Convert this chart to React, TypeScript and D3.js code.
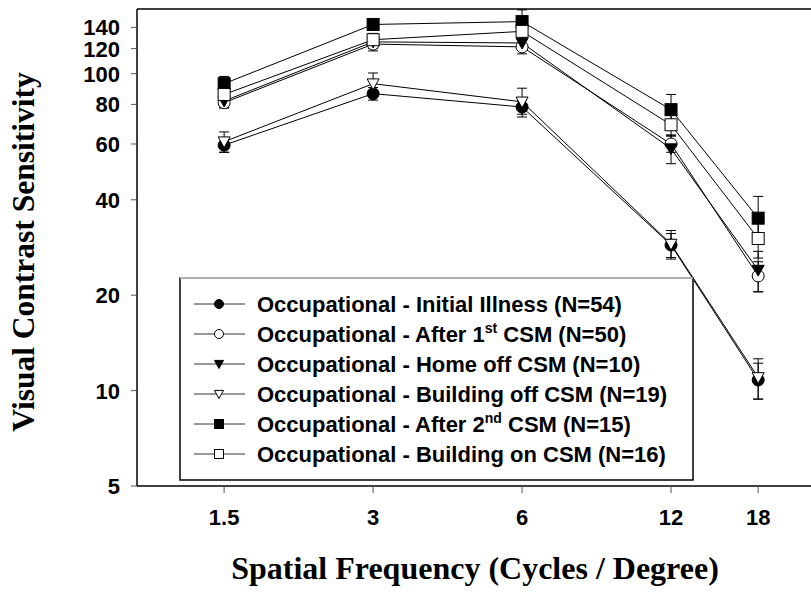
import React from "react";
import * as d3 from "d3";

// spatial frequencies (cycles / degree)
const freqs = [1.5, 3, 6, 12, 18];
const yTicks = [5, 10, 20, 40, 60, 80, 100, 120, 140];

// contrast sensitivity, mean and error per frequency
const initialIllness = [59.5, 86.5, 78.5, 28.8, 10.8];
const initialIllnessErr = [3, 4, 4, 2.5, 1.4];
const afterFirst = [81, 124, 121.5, 60, 23];
const afterFirstErr = [3, 6, 6, 3.5, 2.5];
const homeOff = [82, 126, 125, 58, 24];
const homeOffErr = [4, 6, 6, 6, 3.5];
const buildingOff = [61, 93, 81.5, 29, 11];
const buildingOffErr = [4.5, 7.5, 8.5, 3, 1.6];
const afterSecond = [93, 143, 146, 77, 35];
const afterSecondErr = [5, 5, 13, 9, 6];
const buildingOn = [86, 128, 136, 69, 30.2];
const buildingOnErr = [5, 6, 8, 5, 4];

const series = [
  { name: ["Occupational - Initial Illness (N=54)"], values: initialIllness, err: initialIllnessErr, shape: "circle", filled: true },
  { name: ["Occupational - After 1", "st", " CSM (N=50)"], values: afterFirst, err: afterFirstErr, shape: "circle", filled: false },
  { name: ["Occupational - Home off CSM (N=10)"], values: homeOff, err: homeOffErr, shape: "triangle", filled: true },
  { name: ["Occupational - Building off CSM (N=19)"], values: buildingOff, err: buildingOffErr, shape: "triangle", filled: false },
  { name: ["Occupational - After 2", "nd", " CSM (N=15)"], values: afterSecond, err: afterSecondErr, shape: "square", filled: true },
  { name: ["Occupational - Building on CSM (N=16)"], values: buildingOn, err: buildingOnErr, shape: "square", filled: false },
];

const W = 811;
const H = 592;
const left = 137, top = 9, bottom = 486;

const Marker = ({ shape, filled, x, y, s }) => {
  const fill = filled ? "#000" : "#fff";
  if (shape === "circle")
    return <circle cx={x} cy={y} r={s} fill={fill} stroke="#000" strokeWidth={1} />;
  if (shape === "square")
    return <rect x={x - s} y={y - s} width={2 * s} height={2 * s} fill={fill} stroke="#000" strokeWidth={1} />;
  const p = `M${x - s},${y - s * 0.8}L${x + s},${y - s * 0.8}L${x},${y + s}Z`;
  return <path d={p} fill={fill} stroke="#000" strokeWidth={1} />;
};

export default function App() {
  const x = d3.scaleLog().domain([1, 24]).range([left, 820]);
  const y = d3.scaleLog().domain([5, 160]).range([bottom, top]);
  const line = d3.line<number>().x((d, i) => x(freqs[i])).y((d) => y(d));

  const sans = "'Liberation Sans', Arial, sans-serif";
  const serif = "'Liberation Serif', 'Times New Roman', serif";

  return (
    <svg width={W} height={H} style={{ position: "absolute", left: 0, top: 0, background: "#fff" }}>
      {/* frame */}
      <line x1={left} x2={W} y1={top} y2={top} stroke="#000" strokeWidth={1.5} />
      <line x1={left} x2={left} y1={top} y2={bottom} stroke="#000" strokeWidth={1.5} />
      <line x1={left} x2={W} y1={bottom} y2={bottom} stroke="#000" strokeWidth={1.5} />

      {/* y axis */}
      {yTicks.map((t) => (
        <g key={"y" + t}>
          <line x1={left - 6} x2={left} y1={y(t)} y2={y(t)} stroke="#555" />
          <text x={120} y={y(t) + 8} textAnchor="end" fontFamily={sans} fontWeight="bold" fontSize={22}>
            {t}
          </text>
        </g>
      ))}

      {/* x axis */}
      {freqs.map((f) => (
        <g key={"x" + f}>
          <line x1={x(f)} x2={x(f)} y1={bottom} y2={bottom + 7} stroke="#555" />
          <text x={x(f)} y={525} textAnchor="middle" fontFamily={sans} fontWeight="bold" fontSize={22}>
            {f}
          </text>
        </g>
      ))}

      <text x={475} y={579} textAnchor="middle" fontFamily={serif} fontWeight="bold" fontSize={32}>
        Spatial Frequency (Cycles / Degree)
      </text>
      <text transform="translate(34,252) rotate(-90)" textAnchor="middle" fontFamily={serif} fontWeight="bold" fontSize={31.5}>
        Visual Contrast Sensitivity
      </text>

      {/* error bars */}
      {series.map((s, si) =>
        s.values.map((v, i) => {
          const cx = x(freqs[i]);
          const y1 = y(v + s.err[i]);
          const y2 = y(v - s.err[i]);
          return (
            <g key={`e${si}-${i}`} stroke="#000" strokeWidth={1}>
              <line x1={cx} x2={cx} y1={y1} y2={y2} />
              <line x1={cx - 5} x2={cx + 5} y1={y1} y2={y1} />
              <line x1={cx - 5} x2={cx + 5} y1={y2} y2={y2} />
            </g>
          );
        })
      )}

      {/* lines */}
      {series.map((s, si) => (
        <path key={"l" + si} d={line(s.values)} fill="none" stroke="#000" strokeWidth={1} />
      ))}

      {/* markers */}
      {series.map((s, si) =>
        s.values.map((v, i) => (
          <Marker key={`m${si}-${i}`} shape={s.shape} filled={s.filled} x={x(freqs[i])} y={y(v)} s={6} />
        ))
      )}

      {/* legend */}
      <rect x={180} y={278} width={513} height={202} fill="#fff" stroke="#000" strokeWidth={1.5} />
      <line x1={180} x2={693} y1={278} y2={278} stroke="#d4d4d4" strokeWidth={1.5} />
      {series.map((s, i) => {
        const ly = 304 + i * 30;
        return (
          <g key={"lg" + i}>
            <line x1={194} x2={245} y1={ly} y2={ly} stroke="#333" strokeWidth={1} />
            <Marker shape={s.shape} filled={s.filled} x={219} y={ly} s={4.5} />
            <text x={257} y={ly + 8} fontFamily={sans} fontWeight="bold" fontSize={22}>
              {s.name.length === 1 ? (
                s.name[0]
              ) : (
                <>
                  {s.name[0]}
                  <tspan dy={-9} fontSize={14}>{s.name[1]}</tspan>
                  <tspan dy={9}>{s.name[2]}</tspan>
                </>
              )}
            </text>
          </g>
        );
      })}
    </svg>
  );
}
